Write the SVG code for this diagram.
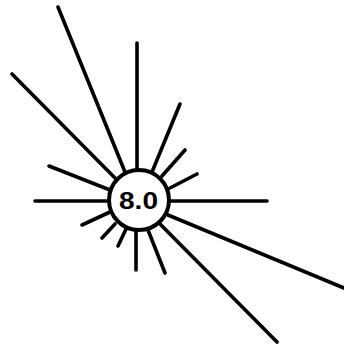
<svg xmlns="http://www.w3.org/2000/svg" width="344" height="344" viewBox="0 0 344 344">
<style>
.ray{stroke:#000;stroke-width:3.6;stroke-linecap:round;fill:none}
.node{fill:#fff;stroke:#000;stroke-width:4}
.lbl{font-family:"Liberation Sans",Arial,sans-serif;font-weight:bold;font-size:24px;fill:#000}
</style>
<rect width="344" height="344" fill="#fff"/>
<g id="connectors">
<line class="ray" x1="58" y1="7" x2="125" y2="172"/>
<line class="ray" x1="137" y1="43" x2="137" y2="170"/>
<line class="ray" x1="12" y1="74" x2="115" y2="178"/>
<line class="ray" x1="180" y1="104" x2="152" y2="172"/>
<line class="ray" x1="185" y1="150" x2="162" y2="176"/>
<line class="ray" x1="197" y1="174" x2="170" y2="188"/>
<line class="ray" x1="170" y1="201" x2="267" y2="201"/>
<line class="ray" x1="168" y1="215" x2="344" y2="288"/>
<line class="ray" x1="160" y1="224" x2="277" y2="342"/>
<line class="ray" x1="148" y1="230" x2="165" y2="273"/>
<line class="ray" x1="136" y1="230" x2="136" y2="270"/>
<line class="ray" x1="126" y1="229" x2="118" y2="246"/>
<line class="ray" x1="115" y1="224" x2="102" y2="238"/>
<line class="ray" x1="110" y1="212" x2="82" y2="225"/>
<line class="ray" x1="35" y1="201" x2="110" y2="201"/>
<line class="ray" x1="49" y1="166" x2="110" y2="190"/>
</g>
<g id="node-8-0">
<circle class="node" cx="139" cy="200" r="30"/>
<text class="lbl" x="138.5" y="208.5" text-anchor="middle" textLength="39" lengthAdjust="spacingAndGlyphs">8.0</text>
</g>
</svg>
